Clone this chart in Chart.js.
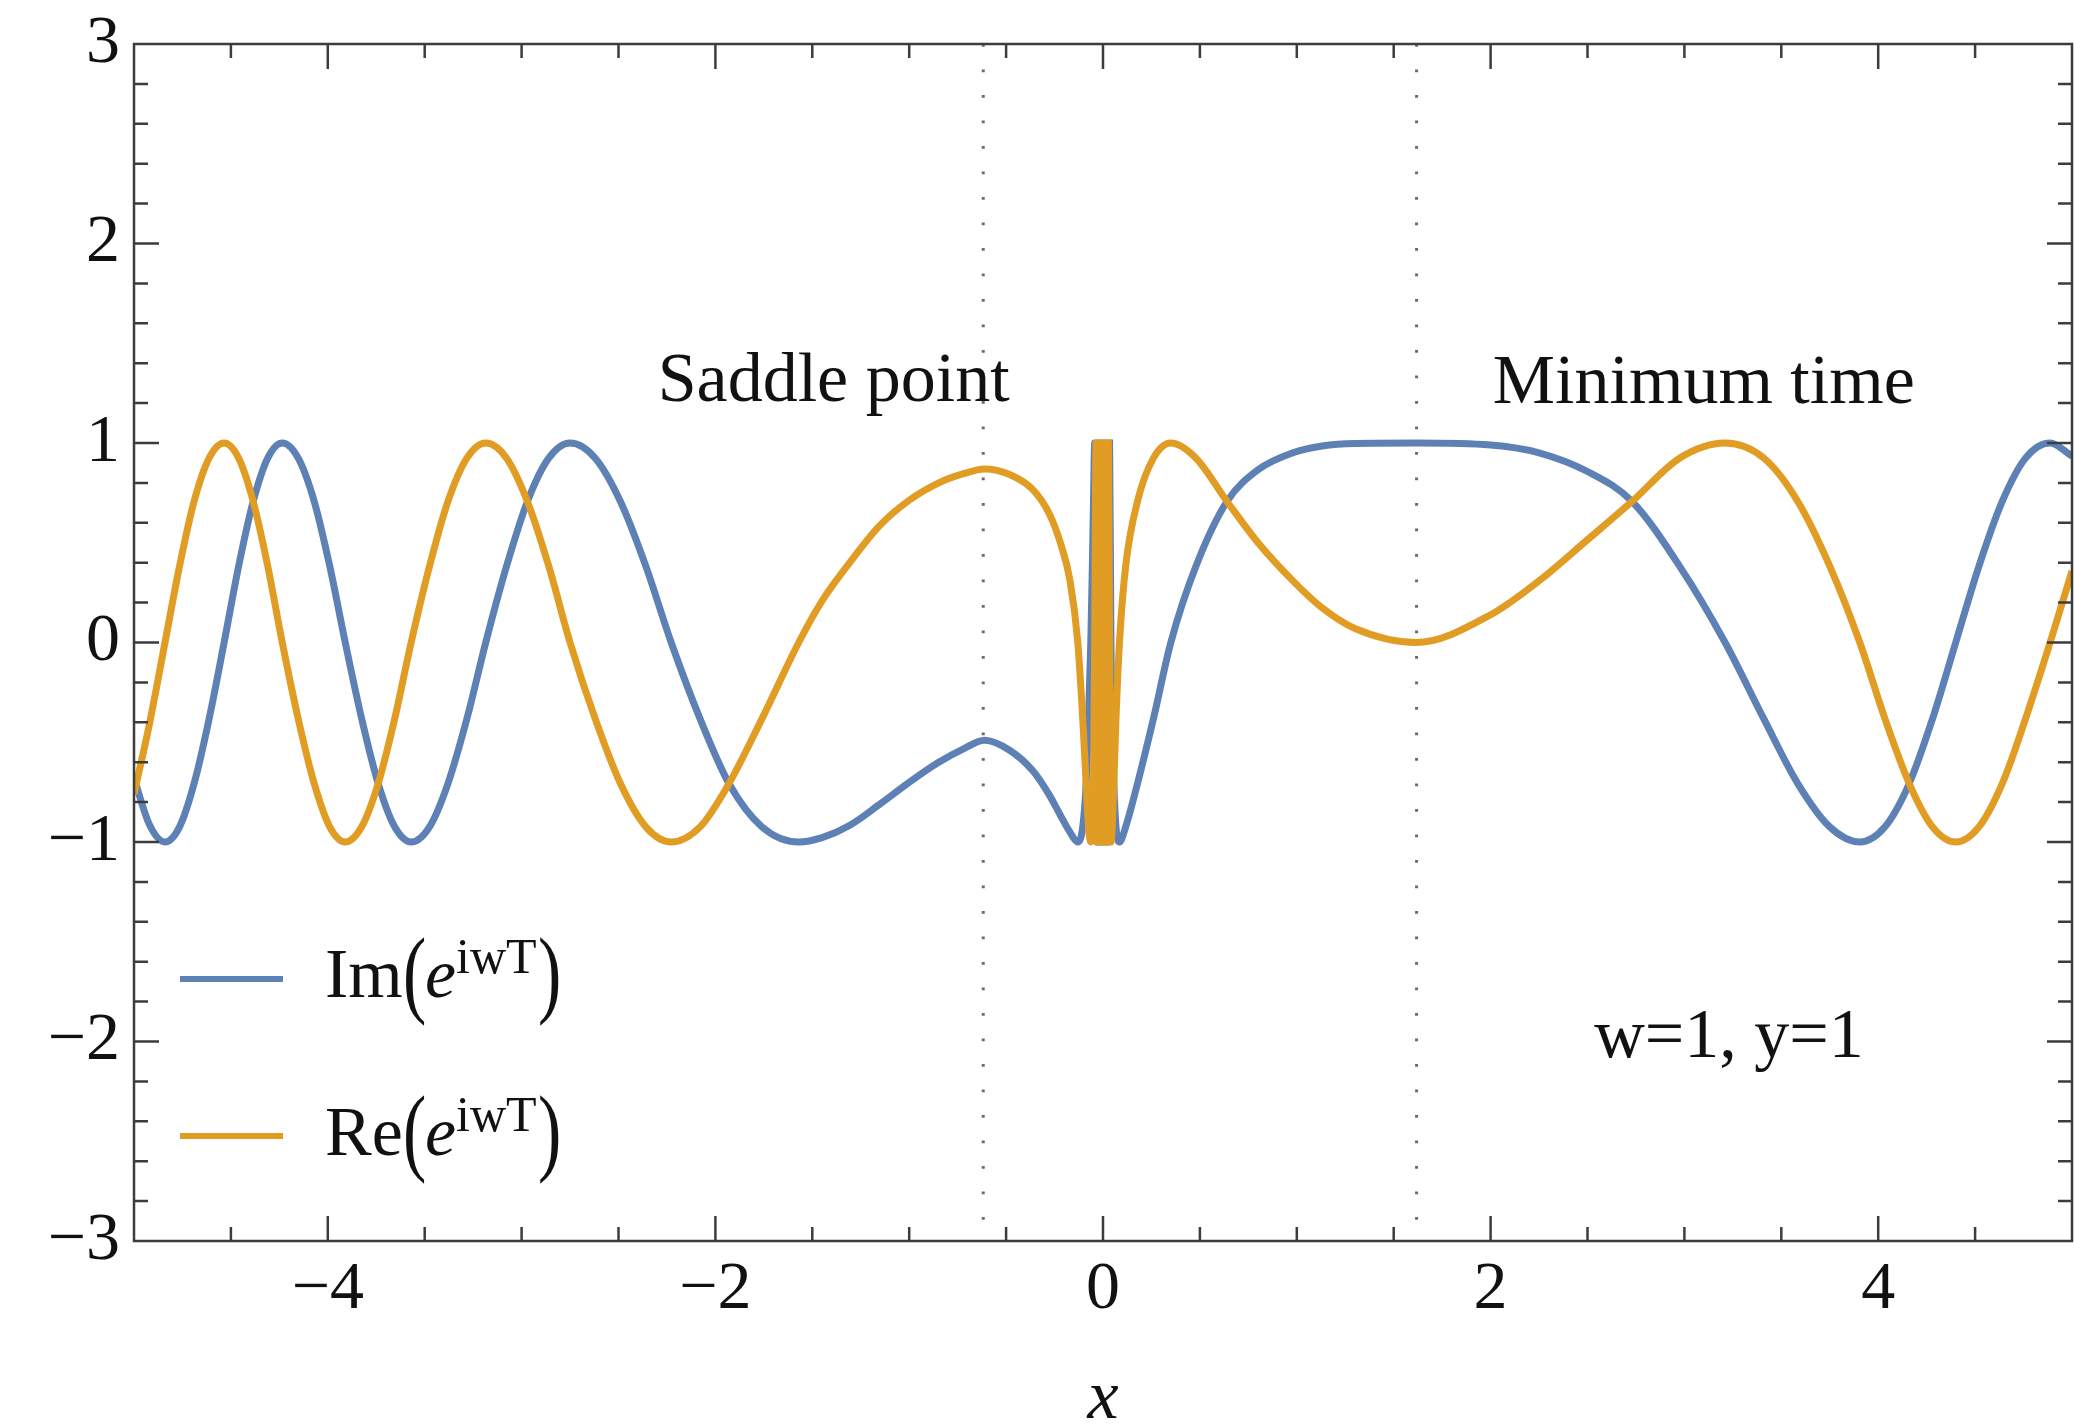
<!DOCTYPE html>
<html lang="en">
<head>
<meta charset="UTF-8" />
<title>Im and Re of e^(iwT)</title>
<style>
  html, body { margin: 0; padding: 0; background: #fff; }
  canvas { display: block; }
</style>
</head>
<body>
<canvas id="plot" width="2074" height="1426"></canvas>

<script src="https://cdn.jsdelivr.net/npm/chart.js@4.4.0/dist/chart.umd.min.js"></script>
<script>
  // x < 0 part, up to the fast oscillation at x = 0 (shared x for both curves)
  const xLeft = [-5, -4.92, -4.84, -4.765, -4.69, -4.6125, -4.535, -4.46, -4.385, -4.31, -4.235,
    -4.1525, -4.07, -3.99, -3.91, -3.825, -3.74, -3.655, -3.57, -3.475, -3.38, -3.2825, -3.185,
    -3.0775, -2.97, -2.86, -2.75, -2.62, -2.49, -2.359, -2.228, -2.079, -1.93, -1.76, -1.57,
    -1.45, -1.308, -1.15, -1.0, -0.85, -0.72, -0.611, -0.482, -0.362, -0.276, -0.22, -0.17,
    -0.13, -0.105, -0.087, -0.075, -0.063, -0.055, -0.049, -0.043];
  const imLeft = [-0.68, -0.914, -1, -0.924, -0.707, -0.383, 0, 0.383, 0.707, 0.924, 1,
    0.924, 0.707, 0.383, 0, -0.383, -0.707, -0.924, -1, -0.924, -0.707, -0.383, 0,
    0.383, 0.707, 0.924, 1, 0.924, 0.707, 0.383, 0, -0.383, -0.707, -0.924, -1,
    -0.978, -0.917, -0.809, -0.701, -0.602, -0.533, -0.49, -0.54, -0.643, -0.766, -0.866, -0.951,
    -1, -0.927, -0.707, -0.383, 0, 0.383, 0.707, 1];
  const reLeft = [-0.76, -0.407, 0, 0.383, 0.707, 0.924, 1, 0.924, 0.707, 0.383, 0,
    -0.383, -0.707, -0.924, -1, -0.924, -0.707, -0.383, 0, 0.383, 0.707, 0.924, 1,
    0.924, 0.707, 0.383, 0, -0.383, -0.707, -0.924, -1, -0.924, -0.707, -0.383, 0,
    0.208, 0.399, 0.588, 0.713, 0.799, 0.846, 0.87, 0.842, 0.766, 0.643, 0.5, 0.309,
    0, -0.375, -0.707, -0.924, -1, -0.924, -0.707, 0];

  // the solid band around x = 0
  const xImBand = [-0.034, -0.030, -0.026, -0.022, -0.018, -0.014, -0.010, -0.006, -0.002,
    0.002, 0.006, 0.010, 0.014, 0.018, 0.022, 0.026, 0.030, 0.034];
  const imBand = [-1, 1, -1, 1, -1, 1, -1, 1, -1, 1, -1, 1, -1, 1, -1, 1, -1, 1];
  const xReBand = [-0.036, -0.032, -0.028, -0.024, -0.020, -0.016, -0.012, -0.008, -0.004, 0,
    0.004, 0.008, 0.012, 0.016, 0.020, 0.024, 0.028, 0.034];
  const reBand = [1, -1, 1, -1, 1, -1, 1, -1, 1, -1, 1, -1, 1, -1, 1, -1, 1, 0];

  // x > 0 part (shared x)
  const xRight = [0.041, 0.0475, 0.056, 0.067, 0.085, 0.117, 0.178, 0.26, 0.35, 0.48, 0.64, 0.8,
    0.98, 1.13, 1.3, 1.616, 2.0, 2.25, 2.5, 2.73, 2.975, 3.21, 3.41, 3.585, 3.75, 3.905, 4.035,
    4.16, 4.28, 4.40, 4.52, 4.64, 4.76, 4.887, 5];
  const imRight = [0, -0.383, -0.707, -0.924, -1, -0.924, -0.707, -0.383, 0, 0.383, 0.707, 0.866,
    0.951, 0.985, 0.998, 1, 0.99, 0.951, 0.857, 0.707, 0.383, 0, -0.383, -0.707, -0.924, -1, -0.924,
    -0.707, -0.383, 0, 0.383, 0.707, 0.924, 1, 0.934];
  const reRight = [-1, -0.924, -0.707, -0.383, 0, 0.383, 0.707, 0.924, 1, 0.924, 0.707, 0.5,
    0.309, 0.174, 0.07, 0, 0.139, 0.309, 0.515, 0.707, 0.924, 1, 0.924, 0.707, 0.383, 0, -0.383,
    -0.707, -0.924, -1, -0.924, -0.707, -0.383, 0, 0.358];

  // dotted markers: saddle point and minimum time
  const markerX = [-0.618, 1.618];

  const xTicks = [-4, -2, 0, 2, 4];
  const yTicks = [-3, -2, -1, 0, 1, 2, 3];

  const notes = ['Saddle point', 'Minimum time', 'w=1, y=1'];
  const noteX = [-1.39, 3.10, 3.23];
  const noteY = [1.21, 1.20, -2.08];

  const BLUE = '#5E81B5';
  const ORANGE = '#E19C24';
  const FRAME = '#3c3c3c';
  const SERIF = "'Liberation Serif', 'Times New Roman', serif";

  const toPoints = (xs, ys) => xs.map((x, i) => ({ x, y: ys[i] }));
  const minus = v => (v < 0 ? '\u2212' + Math.abs(v) : String(v));

  const imPts = toPoints(xLeft, imLeft).concat(toPoints(xImBand, imBand), toPoints(xRight, imRight));
  const rePts = toPoints(xLeft, reLeft).concat(toPoints(xReBand, reBand), toPoints(xRight, reRight));

  const markerSets = markerX.map(mx => ({
    data: [{ x: mx, y: 3 }, { x: mx, y: -3 }],
    borderColor: 'rgba(70,70,70,0.8)',
    borderWidth: 3,
    borderDash: [2.8, 22.7],
    borderCapStyle: 'butt',
    pointRadius: 0,
    order: 3
  }));

  // frame, inward ticks, legend and text labels
  const decor = {
    id: 'decor',
    afterDatasetsDraw(chart) {
      const { ctx, chartArea: a, scales: { x, y } } = chart;
      ctx.save();
      ctx.strokeStyle = FRAME;
      ctx.lineWidth = 2.5;
      ctx.strokeRect(a.left, a.top, a.right - a.left, a.bottom - a.top);

      ctx.beginPath();
      for (let i = -9; i <= 9; i++) {
        const v = i / 2;
        const len = v % 2 === 0 ? 25 : 14;
        const px = x.getPixelForValue(v);
        ctx.moveTo(px, a.bottom); ctx.lineTo(px, a.bottom - len);
        ctx.moveTo(px, a.top); ctx.lineTo(px, a.top + len);
      }
      for (let i = -14; i <= 14; i++) {
        const len = i % 5 === 0 ? 25 : 14;
        const py = y.getPixelForValue(i / 5);
        ctx.moveTo(a.left, py); ctx.lineTo(a.left + len, py);
        ctx.moveTo(a.right, py); ctx.lineTo(a.right - len, py);
      }
      ctx.stroke();

      // annotations
      ctx.fillStyle = '#111';
      ctx.textAlign = 'center';
      ctx.textBaseline = 'alphabetic';
      ctx.font = '70px ' + SERIF;
      notes.forEach((t, i) => ctx.fillText(t, x.getPixelForValue(noteX[i]), y.getPixelForValue(noteY[i])));

      // axis title
      ctx.font = 'italic 70px ' + SERIF;
      ctx.fillText('x', x.getPixelForValue(0), 1418);

      // legend
      const rows = [
        { name: 'Im', color: BLUE, lineY: a.top + 935, base: a.top + 953 },
        { name: 'Re', color: ORANGE, lineY: a.top + 1092, base: a.top + 1111 }
      ];
      ctx.textAlign = 'left';
      rows.forEach(r => {
        ctx.strokeStyle = r.color;
        ctx.lineWidth = 6;
        ctx.beginPath();
        ctx.moveTo(a.left + 46, r.lineY);
        ctx.lineTo(a.left + 149, r.lineY);
        ctx.stroke();
        const x0 = a.left + 191;
        ctx.fillStyle = '#111';
        ctx.font = '70px ' + SERIF;
        ctx.fillText(r.name, x0, r.base);
        // tall, thin parentheses
        [['(', x0 + 78], [')', x0 + 213]].forEach(([ch, px]) => {
          ctx.save();
          ctx.translate(px, r.base + 8);
          ctx.scale(1, 1.38);
          ctx.fillText(ch, 0, 0);
          ctx.restore();
        });
        ctx.font = 'italic 70px ' + SERIF;
        ctx.fillText('e', x0 + 100, r.base);
        ctx.font = '50px ' + SERIF;
        ctx.fillText('iwT', x0 + 131, r.base - 24);
      });
      ctx.restore();
    }
  };

  new Chart(document.getElementById('plot').getContext('2d'), {
    type: 'line',
    data: {
      datasets: [
        {
          label: 'Re(e^iwT)',
          data: rePts,
          borderColor: ORANGE,
          borderWidth: 7,
          pointRadius: 0,
          cubicInterpolationMode: 'monotone',
          order: 1
        },
        {
          label: 'Im(e^iwT)',
          data: imPts,
          borderColor: BLUE,
          borderWidth: 7,
          pointRadius: 0,
          cubicInterpolationMode: 'monotone',
          order: 2
        },
        ...markerSets
      ]
    },
    options: {
      responsive: false,
      animation: false,
      events: [],
      layout: { padding: { top: 44, right: 2, left: 0, bottom: 0 } },
      plugins: { legend: { display: false }, tooltip: { enabled: false } },
      scales: {
        x: {
          type: 'linear',
          min: -5,
          max: 5,
          afterBuildTicks: s => { s.ticks = xTicks.map(v => ({ value: v })); },
          afterFit: s => { s.height = 185; },
          grid: { display: false, drawTicks: false },
          border: { display: false },
          ticks: {
            color: '#111',
            padding: 8,
            maxRotation: 0,
            autoSkip: false,
            font: { family: SERIF, size: 68 },
            callback: v => minus(v)
          }
        },
        y: {
          type: 'linear',
          min: -3,
          max: 3,
          afterBuildTicks: s => { s.ticks = yTicks.map(v => ({ value: v })); },
          afterFit: s => { s.width = 134; s.paddingTop = 0; s.paddingBottom = 0; },
          grid: { display: false, drawTicks: false },
          border: { display: false },
          ticks: {
            color: '#111',
            padding: 14,
            autoSkip: false,
            font: { family: SERIF, size: 68 },
            callback: v => minus(v)
          }
        }
      }
    },
    plugins: [decor]
  });
</script>
</body>
</html>
